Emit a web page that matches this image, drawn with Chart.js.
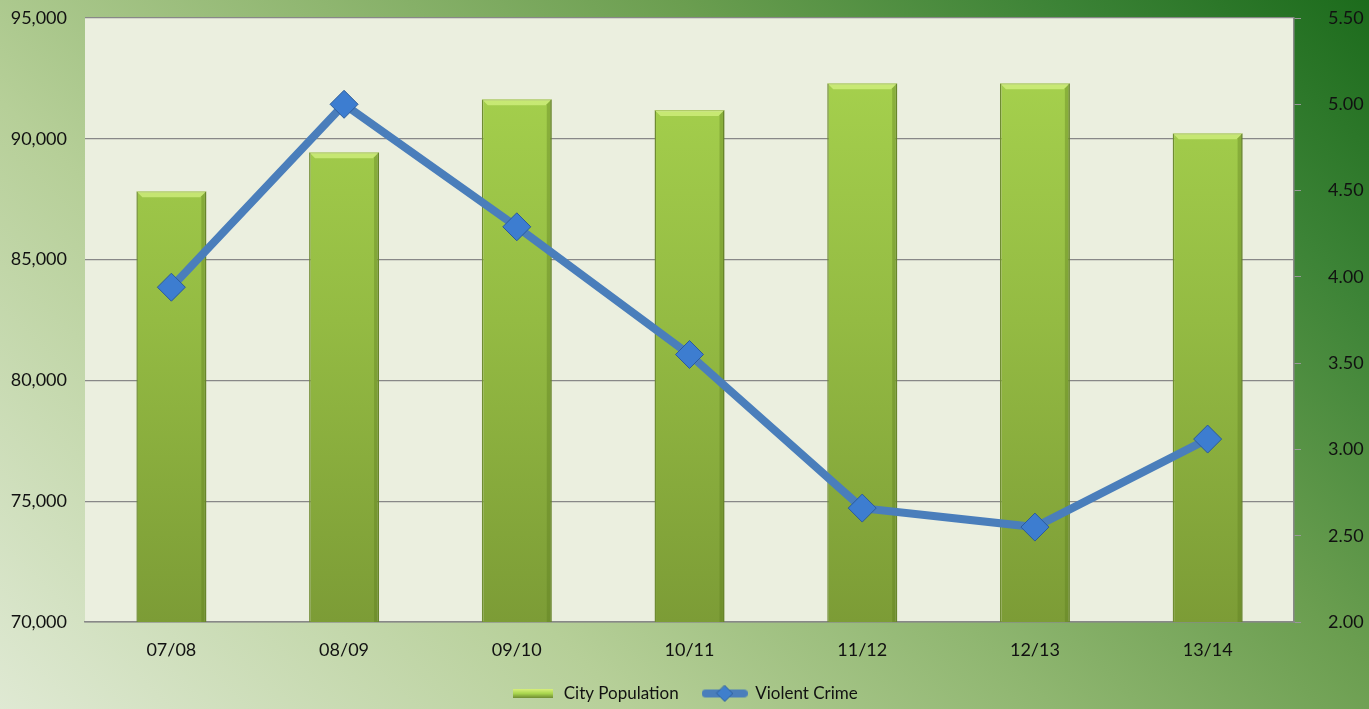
<!DOCTYPE html>
<html>
<head>
<meta charset="utf-8">
<script src="https://cdn.jsdelivr.net/npm/chart.js@4"></script>
<style>
  html, body { margin: 0; padding: 0; background: #fff; }
  #wrap { width: 1369px; height: 709px; }
</style>
</head>
<body>
<div id="wrap"><canvas id="chart" width="1369" height="709"></canvas></div>
<script>
const seasons = ['07/08', '08/09', '09/10', '10/11', '11/12', '12/13', '13/14'];
const population = [87830, 89440, 91640, 91190, 92300, 92300, 90230];
const violentCrime = [3.94, 5.00, 4.29, 3.55, 2.66, 2.55, 3.06];

const ctx = document.querySelector('#chart').getContext('2d');
const tickFont = { family: 'Lato', size: 18 };

// page background + plot area fill
const backdrop = {
  id: 'backdrop',
  beforeDraw(chart) {
    const { ctx, width, height, chartArea } = chart;
    const g = ctx.createLinearGradient(0, height, width * 0.74, height - width * 0.77);
    g.addColorStop(0, '#dfe9d3');
    g.addColorStop(0.3, '#b6cf98');
    g.addColorStop(0.5, '#8fb670');
    g.addColorStop(0.67, '#6b9e50');
    g.addColorStop(0.85, '#3c8336');
    g.addColorStop(1, '#1c6b1c');
    ctx.save();
    ctx.fillStyle = g;
    ctx.fillRect(0, 0, width, height);
    ctx.fillStyle = '#ebefdf';
    ctx.fillRect(chartArea.left, chartArea.top, chartArea.right - chartArea.left, chartArea.bottom - chartArea.top);
    ctx.restore();
  }
};

function barFill(context) {
  const area = context.chart.chartArea;
  if (!area) return '#98c444';
  const g = context.chart.ctx.createLinearGradient(0, area.top, 0, area.bottom);
  g.addColorStop(0, '#a9d54f');
  g.addColorStop(0.5, '#94bb43');
  g.addColorStop(1, '#7c9c36');
  return g;
}

// light bevel on the top of each bar
const bevel = {
  id: 'bevel',
  afterDatasetDraw(chart, args) {
    if (chart.data.datasets[args.index].type !== 'bar') return;
    const c = chart.ctx;
    c.save();
    args.meta.data.forEach(bar => {
      const { x, y, width } = bar.getProps(['x', 'y', 'width'], true);
      const l = x - width / 2, r = x + width / 2;
      c.fillStyle = 'rgba(230,255,150,0.55)';
      c.beginPath();
      c.moveTo(l, y); c.lineTo(r, y); c.lineTo(r - 6, y + 6); c.lineTo(l + 6, y + 6); c.closePath();
      c.fill();
      c.fillStyle = 'rgba(90,120,30,0.35)';
      c.beginPath();
      c.moveTo(r, y); c.lineTo(r, chart.chartArea.bottom); c.lineTo(r - 5, chart.chartArea.bottom); c.lineTo(r - 5, y + 5); c.closePath();
      c.fill();
    });
    c.restore();
  }
};

// little legend symbols like the office ones
function barSymbol() {
  const c = document.createElement('canvas');
  c.width = 40; c.height = 9;
  const x = c.getContext('2d');
  const g = x.createLinearGradient(0, 0, 0, 9);
  g.addColorStop(0, '#d8f07a');
  g.addColorStop(0.5, '#a9d54f');
  g.addColorStop(1, '#6f8c32');
  x.fillStyle = g;
  x.fillRect(0, 0, 40, 9);
  return c;
}
function lineSymbol() {
  const c = document.createElement('canvas');
  c.width = 46; c.height = 18;
  const x = c.getContext('2d');
  x.strokeStyle = '#4a7ebb';
  x.lineWidth = 8;
  x.lineCap = 'round';
  x.beginPath(); x.moveTo(4, 9); x.lineTo(42, 9); x.stroke();
  x.fillStyle = '#3f7fcc';
  x.strokeStyle = '#2d5f9e';
  x.lineWidth = 1;
  x.beginPath(); x.moveTo(23, 1); x.lineTo(31, 9); x.lineTo(23, 17); x.lineTo(15, 9); x.closePath();
  x.fill(); x.stroke();
  return c;
}
const symbols = { 'City Population': barSymbol(), 'Violent Crime': lineSymbol() };

function squeeze(scale, w) {
  scale.width = w;
  scale.paddingTop = 0;
  scale.paddingBottom = 0;
}

new Chart(ctx, {
  data: {
    labels: seasons,
    datasets: [
      {
        type: 'line',
        label: 'Violent Crime',
        data: violentCrime,
        yAxisID: 'y1',
        borderColor: '#4a7ebb',
        backgroundColor: '#4a7ebb',
        borderWidth: 8,
        pointStyle: 'rectRot',
        pointRadius: 14,
        pointBackgroundColor: '#3d7dd0',
        pointBorderColor: '#2c5b9a',
        pointBorderWidth: 1,
        tension: 0,
        order: 0
      },
      {
        type: 'bar',
        label: 'City Population',
        data: population,
        yAxisID: 'y',
        backgroundColor: barFill,
        borderColor: '#6f8c32',
        borderWidth: 1.5,
        categoryPercentage: 1,
        barPercentage: 0.405,
        order: 1
      }
    ]
  },
  options: {
    responsive: false,
    animation: false,
    layout: { padding: { top: 18, bottom: -3 } },
    plugins: {
      legend: {
        position: 'bottom',
        reverse: true,
        labels: {
          color: '#111',
          font: { family: 'Lato', size: 17 },
          usePointStyle: true,
          pointStyleWidth: 44,
          padding: 24,
          generateLabels(chart) {
            const items = Chart.defaults.plugins.legend.labels.generateLabels(chart);
            items.forEach(it => { it.pointStyle = symbols[it.text]; });
            return items;
          }
        }
      },
      tooltip: { enabled: false }
    },
    scales: {
      x: {
        grid: { display: false, drawTicks: false },
        border: { color: '#888', width: 1.5 },
        ticks: { color: '#111', font: tickFont, padding: 17 },
        afterFit(scale) { scale.height = 39; }
      },
      y: {
        position: 'left',
        min: 70000,
        max: 95000,
        ticks: {
          stepSize: 5000,
          color: '#111',
          font: tickFont,
          padding: 18,
          callback: v => v.toLocaleString('en-US')
        },
        grid: { color: '#888', lineWidth: 1.2, drawTicks: false },
        border: { display: false },
        afterFit(scale) { squeeze(scale, 85); }
      },
      y1: {
        position: 'right',
        min: 2,
        max: 5.5,
        ticks: {
          stepSize: 0.5,
          color: '#111',
          font: tickFont,
          padding: 27,
          callback: v => v.toFixed(2)
        },
        grid: { drawOnChartArea: false, color: '#999', tickLength: 7 },
        border: { color: '#888', width: 1.5 },
        afterFit(scale) { squeeze(scale, 75); }
      }
    }
  },
  plugins: [backdrop, bevel]
});
</script>
</body>
</html>
